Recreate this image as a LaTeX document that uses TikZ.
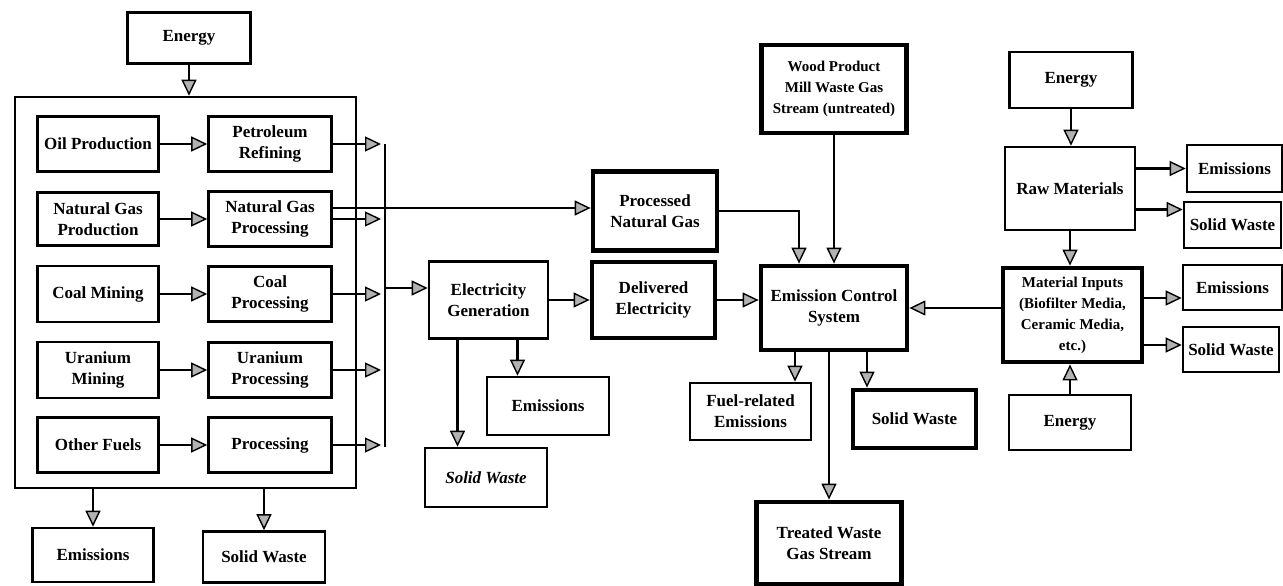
\documentclass[tikz,border=0pt]{standalone}
\usepackage{fontspec}
\setmainfont{Liberation Serif}
\usetikzlibrary{arrows.meta}

\begin{document}
\begin{tikzpicture}[x=1pt, y=-1pt,
    box/.style={draw, line width=2.6pt, align=center, inner sep=2pt,
        font=\bfseries\fontsize{17}{21}\selectfont},
    heavy/.style={box, line width=4.8pt},
    small/.style={font=\bfseries\fontsize{15}{21}\selectfont},
    sz/.style 2 args={minimum width=#1, minimum height=#2},
    ln/.style={line width=2.6pt},
    arr/.style={ln, -{Triangle[length=16pt, width=15pt, fill=gray!60, line width=1.4pt]}}]
    \useasboundingbox (0,0) rectangle (1283,586);

    % 1. Fuel production block
    \node[box, sz={123}{51}] (energyA) at (189,38) {Energy};
    \node[box, sz={341}{391}] (fuels) at (185.5,292.5) {};

    \node[box, sz={121}{55}] (oil)      at (98,144)  {Oil Production};
    \node[box, sz={123}{55}] (petro)    at (270,144) {Petroleum\\Refining};
    \node[box, sz={121}{53}] (ngprod)   at (98,219)  {Natural Gas\\Production};
    \node[box, sz={123}{55}] (ngproc)   at (270,219) {Natural Gas\\Processing};
    \node[box, sz={121}{56}] (coal)     at (98,294)  {Coal Mining};
    \node[box, sz={123}{55}] (coalproc) at (270,294) {Coal\\Processing};
    \node[box, sz={121}{56}] (uran)     at (98,370)  {Uranium\\Mining};
    \node[box, sz={123}{55}] (uranproc) at (270,370) {Uranium\\Processing};
    \node[box, sz={121}{55}] (other)    at (98,445)  {Other Fuels};
    \node[box, sz={123}{55}] (otherproc) at (270,445) {Processing};

    \node[box, sz={121}{54}] (emisA)  at (93,555)  {Emissions};
    \node[box, sz={122}{51}] (solidA) at (264,557) {Solid Waste};

    \draw[arr] (energyA.south) -- (energyA.south |- fuels.north);
    \foreach \a/\b in {oil/petro, ngprod/ngproc, coal/coalproc, uran/uranproc, other/otherproc}
        \draw[arr] (\a.east) -- (\b.west);
    \draw[arr] (emisA.north |- fuels.south) -- (emisA.north);
    \draw[arr] (solidA.north |- fuels.south) -- (solidA.north);

    % 2. Collecting bus
    \coordinate (busT) at (385,144);
    \coordinate (busB) at (385,447);
    \coordinate (busout) at (385,288);
    \draw[ln] (busT) -- (busB);
    \foreach \b in {petro, ngproc, coalproc, uranproc, otherproc}
        \draw[arr, shorten >=4pt] (\b.east) -- (\b.east -| busT);

    % 3. Electricity and gas delivery
    \node[box, sz={119}{77}] (elgen)  at (488.5,300) {Electricity\\Generation};
    \node[heavy, sz={124}{79}] (png)  at (655,211)   {Processed\\Natural Gas};
    \node[heavy, sz={123}{76}] (delel) at (653.5,300) {Delivered\\Electricity};
    \node[box, sz={122}{58}] (emisD)  at (548,406)   {Emissions};
    \node[box, sz={122}{59}, font=\bfseries\itshape\fontsize{17}{21}\selectfont] (solidE) at (486,477.5) {Solid Waste};

    \draw[arr] ([yshift=11]ngproc.east) -- ([yshift=11]ngproc.east -| png.west);
    \draw[arr] (busout) -- (busout -| elgen.west);
    \draw[arr] (elgen.east) -- (delel.west);
    \draw[arr] ([xshift=29]elgen.south) -- ([xshift=29]elgen.south |- emisD.north);
    \draw[arr] ([xshift=-31]elgen.south) -- ([xshift=-31]elgen.south |- solidE.north);

    % 4. Emission control system
    \node[heavy, sz={146}{84}] (ecs) at (834,308) {Emission Control\\System};
    \node[heavy, sz={145}{88}, small] (wood) at (834,89) {Wood Product\\Mill Waste Gas\\Stream (untreated)};
    \node[box, sz={121}{57}] (fuelem)  at (750.5,411.5) {Fuel-related\\Emissions};
    \node[heavy, sz={123}{58}] (solidD) at (914.5,419) {Solid Waste};
    \node[heavy, sz={145}{82}] (treated) at (829,543) {Treated Waste\\Gas Stream};

    \draw[arr] (delel.east) -- (delel.east -| ecs.west);
    \draw[arr] (png.east) -| ([xshift=-35]ecs.north);
    \draw[arr] (wood.south) -- (ecs.north);
    \draw[arr] ([xshift=-39]ecs.south) -- ([xshift=-39]ecs.south |- fuelem.north);
    \draw[arr] ([xshift=33]ecs.south) -- ([xshift=33]ecs.south |- solidD.north);
    \draw[arr] (treated.north |- ecs.south) -- (treated.north);

    % 5. Material inputs
    \node[box, sz={123}{56}] (energyB) at (1071,80)      {Energy};
    \node[box, sz={130}{83}] (raw)     at (1070,188.5)   {Raw Materials};
    \node[box, sz={95}{47}]  (emisB)   at (1234.5,168.5) {Emissions};
    \node[box, sz={97}{46}]  (solidB)  at (1232.5,225)   {Solid Waste};
    \node[heavy, sz={139}{94}, small] (matin) at (1072.5,315) {Material Inputs\\(Biofilter Media,\\Ceramic Media,\\etc.)};
    \node[box, sz={99}{45}]  (emisC)   at (1232.5,287.5) {Emissions};
    \node[box, sz={96}{45}]  (solidC)  at (1231,349.5)   {Solid Waste};
    \node[box, sz={122}{55}] (energyC) at (1070,422.5)   {Energy};

    \draw[arr] (energyB.south) -- (energyB.south |- raw.north);
    \draw[arr] ([yshift=20]raw.east) -- ([yshift=20]raw.east -| emisB.west);
    \draw[arr] ([yshift=-21]raw.east) -- ([yshift=-21]raw.east -| solidB.west);
    \draw[arr] (raw.south) -- (raw.south |- matin.north);
    \draw[arr] ([yshift=17]matin.east) -- ([yshift=17]matin.east -| emisC.west);
    \draw[arr] ([yshift=-30]matin.east) -- ([yshift=-30]matin.east -| solidC.west);
    \draw[arr] (energyC.north) -- (energyC.north |- matin.south);
    \draw[arr] (ecs.east -| matin.west) -- (ecs.east);
\end{tikzpicture}
\end{document}
